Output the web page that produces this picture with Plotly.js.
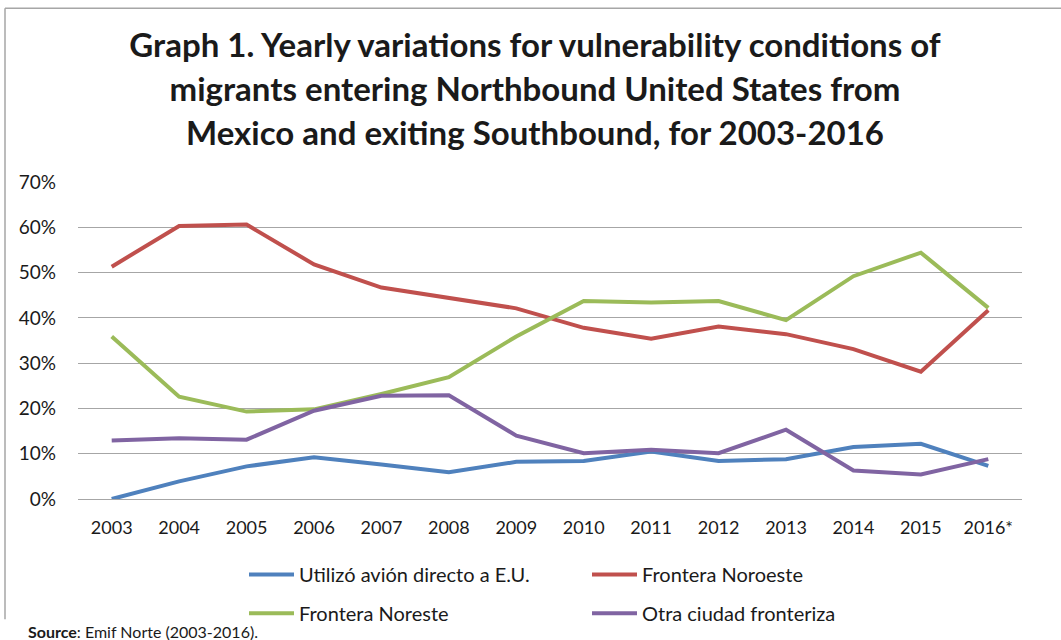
<!DOCTYPE html>
<html>
<head>
<meta charset="utf-8">
<script src="https://cdn.plot.ly/plotly-3.0.1.min.js"></script>
<style>
  html, body { margin: 0; padding: 0; background: #ffffff; }
  #chart { width: 1061px; height: 640px; }
</style>
</head>
<body>
<div id="chart"></div>
<script>
// Yearly shares (%) by crossing condition, EMIF Norte 2003-2016
const years = ['2003', '2004', '2005', '2006', '2007', '2008', '2009',
               '2010', '2011', '2012', '2013', '2014', '2015', '2016*'];

const avionDirecto      = [0.0, 3.9, 7.2, 9.2, 7.6, 5.9, 8.2, 8.4, 10.5, 8.4, 8.8, 11.5, 12.2, 7.3];
const fronteraNoroeste  = [51.3, 60.3, 60.6, 51.8, 46.7, 44.5, 42.1, 37.8, 35.4, 38.1, 36.4, 33.1, 28.1, 41.7];
const fronteraNoreste   = [35.9, 22.6, 19.3, 19.8, 23.2, 26.9, 35.9, 43.7, 43.4, 43.7, 39.5, 49.2, 54.4, 42.2];
const otraCiudad        = [12.9, 13.4, 13.1, 19.5, 22.8, 22.9, 14.0, 10.1, 10.9, 10.1, 15.3, 6.3, 5.4, 8.8];

const seriesNames = ['Utilizó avión directo a E.U.', 'Frontera Noroeste',
                     'Frontera Noreste', 'Otra ciudad fronteriza'];
const yTicks = [0, 10, 20, 30, 40, 50, 60, 70];

const FONT = 'Lato, "Open Sans", sans-serif';

function series(name, values, color, legendId) {
  return {
    type: 'scatter', mode: 'lines', name: name,
    x: years, y: values,
    line: { color: color, width: 4 },
    legend: legendId,
    hoverinfo: 'x+y+name'
  };
}

const data = [
  series(seriesNames[0], avionDirecto,     '#4F81BD', 'legend'),
  series(seriesNames[1], fronteraNoroeste, '#C0504D', 'legend'),
  series(seriesNames[2], fronteraNoreste,  '#9BBB59', 'legend2'),
  series(seriesNames[3], otraCiudad,       '#8064A2', 'legend2')
];

const legendCommon = {
  orientation: 'h',
  xref: 'paper', yref: 'paper',
  xanchor: 'left', yanchor: 'middle',
  entrywidth: 283, entrywidthmode: 'pixels',
  itemwidth: 45,
  font: { family: FONT, size: 20, color: '#1a1a1a' },
  bgcolor: 'rgba(0,0,0,0)',
  itemclick: false, itemdoubleclick: false
};

// paper-coordinate helpers for the 944 x 317.5 px plot area
const px = v => (v - 78) / 944;
const py = v => (499.5 - v) / 317.5;

const titleLines = [
  'Graph 1. Yearly variations for vulnerability conditions of',
  'migrants entering Northbound United States from',
  'Mexico and exiting Southbound, for 2003-2016'
];

const layout = {
  width: 1061, height: 640,
  paper_bgcolor: '#ffffff', plot_bgcolor: '#ffffff',
  margin: { l: 78, r: 39, t: 182, b: 140.5, autoexpand: false },
  font: { family: FONT, color: '#1a1a1a' },
  title: {
    text: titleLines.map(t => '<span style="font-size:33px">' + t + '</span>').join('<br>'),
    font: { family: FONT, size: 34, color: '#1a1a1a', weight: 'bold' },
    xref: 'container', yref: 'container',
    x: 535 / 1061, xanchor: 'center',
    y: 1 - 57 / 640, yanchor: 'top'
  },
  xaxis: {
    type: 'category',
    range: [-0.5, years.length - 0.5],
    showgrid: false, zeroline: false,
    showline: true, linecolor: '#a6a6a6', linewidth: 1.3,
    ticks: '',
    ticklabelstandoff: 12,
    tickfont: { family: FONT, size: 18, color: '#1a1a1a' },
    fixedrange: true
  },
  yaxis: {
    range: [0, 70],
    tickvals: yTicks,
    ticktext: yTicks.map(v => v + '%'),
    showgrid: true, gridcolor: '#a6a6a6', gridwidth: 1.3,
    zeroline: false, showline: false, ticks: '',
    ticklabelstandoff: 21,
    tickfont: { family: FONT, size: 19, color: '#1a1a1a' },
    fixedrange: true
  },
  showlegend: true,
  legend:  Object.assign({}, legendCommon, { x: px(244), y: py(575) }),
  legend2: Object.assign({}, legendCommon, { x: px(244), y: py(614) }),
  annotations: [{
    text: '<b>Source</b>: Emif Norte (2003-2016).',
    xref: 'paper', yref: 'paper',
    x: px(26), y: py(632.5),
    xanchor: 'left', yanchor: 'middle',
    showarrow: false,
    font: { family: FONT, size: 16, color: '#1a1a1a' }
  }],
  shapes: [
    { // chart frame, left edge
      type: 'line', xref: 'paper', yref: 'paper',
      x0: px(5), x1: px(5), y0: py(620), y1: py(8),
      line: { color: '#a6a6a6', width: 1.5 }
    },
    { // chart frame, top edge
      type: 'line', xref: 'paper', yref: 'paper',
      x0: px(5), x1: px(1061), y0: py(8), y1: py(8),
      line: { color: '#a6a6a6', width: 1.5 }
    }
  ]
};

Plotly.newPlot('chart', data, layout, { displayModeBar: false });
</script>
</body>
</html>
